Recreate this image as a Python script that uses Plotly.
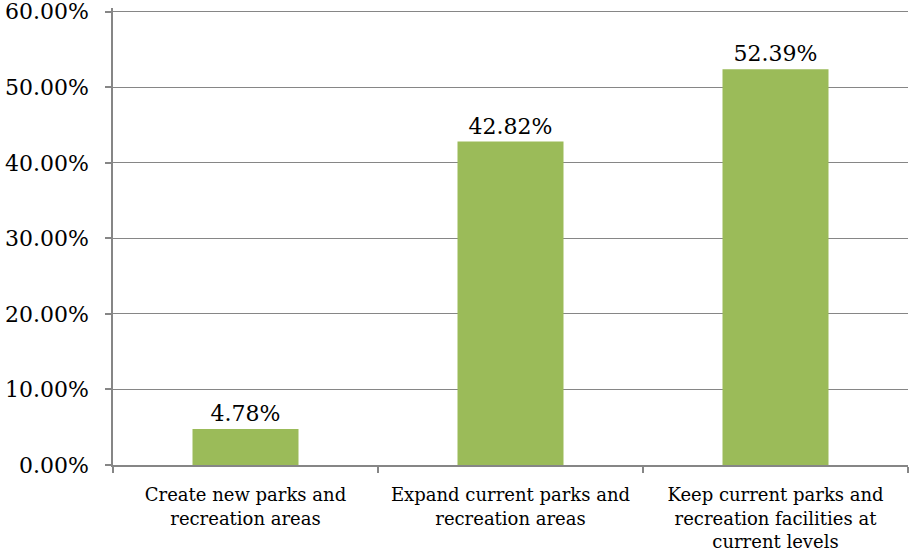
import plotly.graph_objects as go

categories = [
    "Create new parks and<br>recreation areas",
    "Expand current parks and<br>recreation areas",
    "Keep current parks and<br>recreation facilities at<br>current levels",
]
values = [4.78, 42.82, 52.39]
y_ticks = [0, 10, 20, 30, 40, 50, 60]

FONT = "DejaVu Serif"
GRID = "#868686"

fig = go.Figure(
    go.Bar(
        x=categories,
        y=values,
        marker=dict(color="#9BBB59", line=dict(width=0)),
        text=[f"{v:.2f}%" for v in values],
        textposition="outside",
        textfont=dict(family=FONT, size=22, color="#000000"),
        cliponaxis=False,
    )
)

fig.update_layout(
    width=914,
    height=557,
    margin=dict(l=113, r=6, t=8, b=92),
    paper_bgcolor="white",
    plot_bgcolor="white",
    bargap=0.6,
    showlegend=False,
    font=dict(family=FONT, color="#000000"),
)

fig.update_xaxes(
    type="category",
    automargin=False,
    showline=True,
    linecolor=GRID,
    linewidth=1.5,
    ticks="outside",
    tickson="boundaries",
    ticklen=6,
    tickcolor=GRID,
    tickwidth=1.5,
    ticklabelstandoff=13,
    tickfont=dict(family=FONT, size=18, color="#000000"),
    showgrid=False,
)

fig.update_yaxes(
    range=[0, 60.5],
    automargin=False,
    tickvals=y_ticks,
    ticktext=[f"{t:.2f}%" for t in y_ticks],
    ticklabeloverflow="allow",
    showline=True,
    linecolor=GRID,
    linewidth=1.5,
    ticks="outside",
    ticklen=6,
    tickcolor=GRID,
    tickwidth=1.5,
    ticklabelstandoff=12,
    showgrid=True,
    gridcolor=GRID,
    gridwidth=1,
    zeroline=False,
    tickfont=dict(family=FONT, size=22, color="#000000"),
)

fig.write_html(
    "out.html",
    config={"displayModeBar": False},
    post_script="document.body.style.margin='0';document.body.style.overflow='hidden';",
)
